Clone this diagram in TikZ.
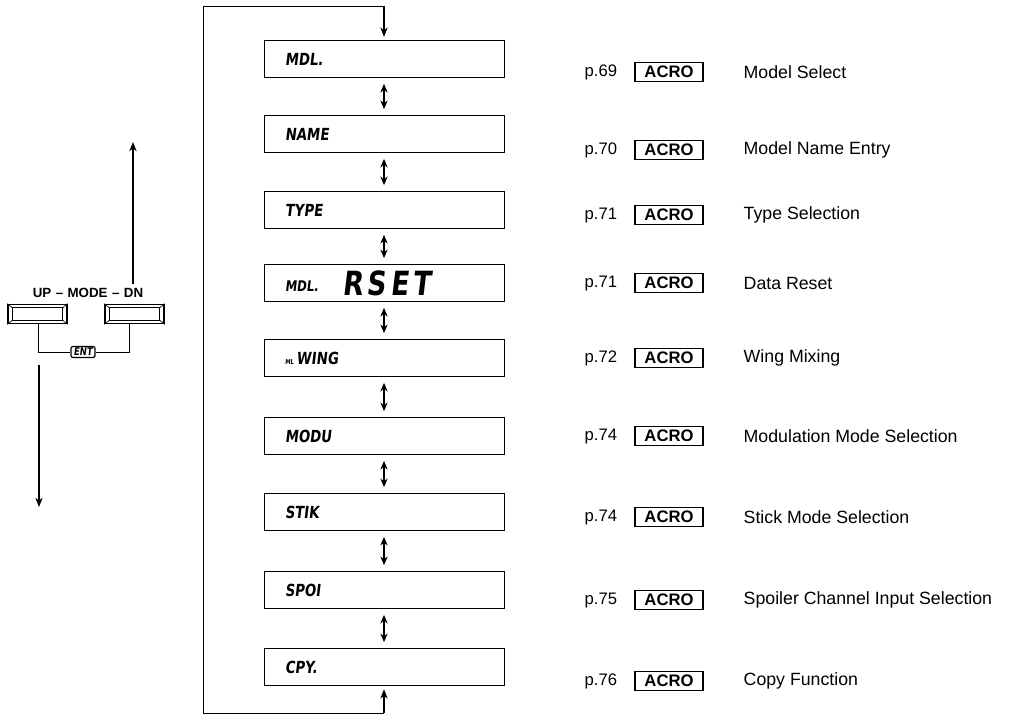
\documentclass[tikz,border=0pt]{standalone}
\usepackage{fontspec}
\setmainfont{Liberation Sans}
\newfontfamily\lcd[FakeSlant=0.12,FakeStretch=0.8]{DejaVu Sans Bold}
\usetikzlibrary{arrows.meta}
\tikzset{
  lcdbox/.style={draw, line width=0.6pt, minimum width=180pt, minimum height=27.75pt,
    inner xsep=15.75pt, inner ysep=0pt, text width=148.5pt, align=left,
    font=\lcd\fontsize{12.5pt}{14pt}\selectfont},
  dbl/.style={{Stealth[length=6.5pt,width=5.5pt]}-{Stealth[length=6.5pt,width=5.5pt]}, line width=0.8pt, shorten <=4.5pt, shorten >=4.5pt},
  sgl/.style={-{Stealth[length=7pt,width=5.5pt]}, line width=0.8pt},
  frame/.style={line width=0.7pt},
  acro/.style={draw, line width=1.2pt, minimum width=51pt, minimum height=14pt, inner sep=0pt,
    font=\bfseries\fontsize{12.5pt}{14pt}\selectfont},
  ptxt/.style={anchor=west, font=\fontsize{12.5pt}{14pt}\selectfont},
  dtxt/.style={anchor=west, font=\fontsize{13.3pt}{15pt}\selectfont},
  btn/.style={draw, line width=1.1pt, minimum width=44pt, minimum height=14.5pt, inner sep=0pt},
}
\begin{document}
\begin{tikzpicture}[x=0.75pt,y=-0.75pt]
\useasboundingbox (0,0) rectangle (1017,718);

% display boxes
\node[lcdbox] (b1) at (384,59) {MDL.};
\node[lcdbox] (b2) at (384,134) {NAME};
\node[lcdbox] (b3) at (384,210) {TYPE};
\node[lcdbox] (b4) at (384,283) {\raisebox{3pt}{\fontsize{11pt}{12pt}\selectfont MDL.}\hspace{18pt}{\fontsize{25pt}{26pt}\selectfont\addfontfeature{LetterSpace=12}RSET}};
\node[lcdbox] (b5) at (384,358) {{\fontsize{5pt}{6pt}\selectfont ML}\,WING};
\node[lcdbox] (b6) at (384,436) {MODU};
\node[lcdbox] (b7) at (384,512) {STIK};
\node[lcdbox] (b8) at (384,590) {SPOI};
\node[lcdbox] (b9) at (384,667) {CPY.};

\foreach \a/\b in {b1/b2,b2/b3,b3/b4,b4/b5,b5/b6,b6/b7,b7/b8,b8/b9}
  \draw[dbl] (\a.south) -- (\b.north);

% loop frame
\coordinate (tl) at (203,6);
\coordinate (bl) at (203,713);
\draw[frame] (bl) -- (tl) -- (tl -| b1.north);
\draw[sgl, shorten >=2.5pt] (tl -| b1.north) -- (b1.north);
\draw[frame] (bl) -- (bl -| b9.south);
\draw[sgl, shorten >=2.5pt] (bl -| b9.south) -- (b9.south);

% right column
\foreach \n/\y/\p/\t in {1/72/69/Model Select,2/150/70/Model Name Entry,3/215/71/Type Selection,
  4/283/71/Data Reset,5/358/72/Wing Mixing,6/436/74/Modulation Mode Selection,
  7/517/74/Stick Mode Selection,8/600/75/Spoiler Channel Input Selection,9/681/76/Copy Function}{
  \node[ptxt] (p\n) at (580,\y) {p.\p};
  \node[acro] (a\n) at (669,\y) {ACRO};
  \node[dtxt] (d\n) at (739,\y) {\t};
}

% left control
\node[font=\bfseries\fontsize{10pt}{11pt}\selectfont] (mode) at (88,293) {UP\,\,--\,\,MODE\,\,--\,\,DN};
\node[btn] (kl) at (37.5,314) {};
\node[btn] (kr) at (134.5,314) {};
\foreach \k in {kl,kr}{
  \draw[line width=0.7pt] ([xshift=3.5pt,yshift=3pt]\k.south west) rectangle ([xshift=-3.5pt,yshift=-3pt]\k.north east);
  \draw[line width=0.5pt] (\k.south west) -- ([xshift=3.5pt,yshift=3pt]\k.south west);
  \draw[line width=0.5pt] (\k.north west) -- ([xshift=3.5pt,yshift=-3pt]\k.north west);
  \draw[line width=0.5pt] (\k.south east) -- ([xshift=-3.5pt,yshift=3pt]\k.south east);
  \draw[line width=0.5pt] (\k.north east) -- ([xshift=-3.5pt,yshift=-3pt]\k.north east);
}
\node[draw, line width=0.9pt, rounded corners=1.5pt, inner xsep=2pt, inner ysep=1.2pt,
  font=\lcd\fontsize{8pt}{9pt}\selectfont] (ent) at (83,352) {ENT};
\draw[line width=0.7pt] ([xshift=1pt]kl.south) |- (ent.west);
\draw[line width=0.7pt] ([xshift=-4pt]kr.south) |- (ent.east);

\coordinate (uptip) at (133,142);
\draw[sgl] (mode.north -| uptip) -- (uptip);
\coordinate (dnstart) at (39,365);
\coordinate (dntip) at (39,507);
\draw[sgl] (dnstart) -- (dntip);
\end{tikzpicture}
\end{document}
